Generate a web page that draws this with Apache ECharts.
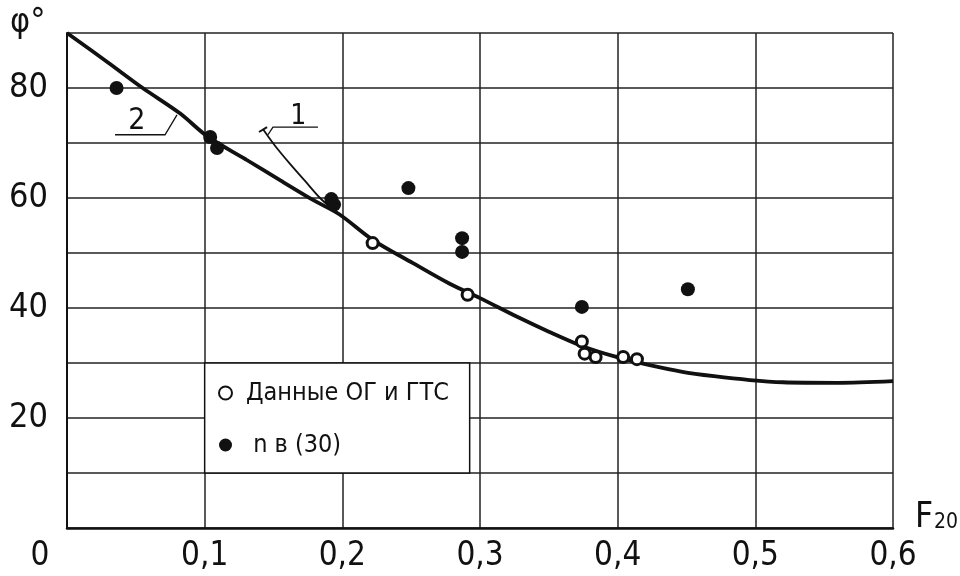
<!DOCTYPE html>
<html>
<head>
<meta charset="utf-8">
<script src="https://cdn.jsdelivr.net/npm/echarts@6/dist/echarts.min.js"></script>
<style>
  html, body { margin: 0; padding: 0; background: #fff; }
  #chart { width: 960px; height: 576px; }
</style>
</head>
<body>
<div id="chart"></div>
<script>
// curve 2 (thick) and curve 1 (thin), [F20, phi]
const curve2 = [
  [0, 90], [0.03, 84.6], [0.055, 80.0], [0.082, 75.4], [0.102, 71.2], [0.13, 67.0],
  [0.155, 63.2], [0.179, 59.6], [0.198, 57.0], [0.222, 52.4], [0.251, 48.2],
  [0.278, 44.4], [0.3, 41.8], [0.327, 38.4], [0.35, 35.7], [0.375, 33.0],
  [0.399, 31.1], [0.42, 29.8], [0.447, 28.4], [0.47, 27.6], [0.496, 26.9],
  [0.52, 26.5], [0.56, 26.4], [0.6, 26.7]
]
const curve1 = [[0.1424, 72.5], [0.1511, 69.5], [0.162, 66.2], [0.1729, 63.1], [0.1838, 60.0], [0.1947, 57.6]]

// measured points
const ogGtsPoints = [
  [0.222, 51.8], [0.291, 42.4], [0.374, 33.9], [0.376, 31.7],
  [0.384, 31.1], [0.404, 31.1], [0.414, 30.7]
]
const n30Points = [
  [0.036, 80.0], [0.104, 71.1], [0.109, 69.1], [0.192, 59.8], [0.194, 58.8],
  [0.248, 61.8], [0.287, 52.7], [0.287, 50.2], [0.374, 40.2], [0.451, 43.4]
]

const seriesNames = ['Данные ОГ и ГТС', ' n в (30)']
const yLabelValues = [20, 40, 60, 80]

// leader lines for curve labels "1" and "2" (data coords)
const label2Line = [[0.0349, 71.5], [0.0712, 71.5], [0.0799, 75.1]]
const label2Pos = [0.0508, 74.0]
const label1Line = [[0.1823, 72.9], [0.1496, 72.9], [0.146, 71.5]]
const label1Tick = [[0.1395, 72.0], [0.1453, 72.9]]
const label1Pos = [0.168, 74.8]

const font = '"Liberation Sans Narrow", "DejaVu Sans Condensed", "Liberation Sans", sans-serif'
const ink = '#111'

const chart = echarts.init(document.getElementById('chart'))

const option = {
  animation: false,
  backgroundColor: '#fff',
  grid: { left: 67, right: 67, top: 33, bottom: 48, containLabel: false },
  legend: {
    orient: 'vertical',
    left: 218,
    top: 380,
    padding: 0,
    itemGap: 26,
    itemWidth: 13,
    itemHeight: 13,
    data: seriesNames,
    textStyle: { fontFamily: font, fontSize: 25, lineHeight: 26, color: ink, padding: [0, 0, 0, 9] },
    z: 5
  },
  xAxis: {
    type: 'value',
    min: 0,
    max: 0.6,
    interval: 0.1,
    axisLine: { lineStyle: { color: ink, width: 2.5 } },
    axisTick: { show: false },
    splitLine: { lineStyle: { color: '#222', width: 1.5 } },
    axisLabel: {
      margin: 12,
      color: ink,
      fontFamily: font,
      fontSize: 33,
      formatter: v => (v === 0 ? '{o|0}' : v.toFixed(1).replace('.', ',')),
      rich: { o: { fontFamily: font, fontSize: 33, color: ink, padding: [0, 54, 0, 0] } }
    }
  },
  yAxis: {
    type: 'value',
    min: 0,
    max: 90,
    interval: 10,
    axisLine: { show: true, lineStyle: { color: ink, width: 2 } },
    axisTick: { show: false },
    splitLine: { lineStyle: { color: '#222', width: 1.5 } },
    axisLabel: {
      margin: 19,
      color: ink,
      fontFamily: font,
      fontSize: 34,
      formatter: v => (yLabelValues.indexOf(v) >= 0 ? String(v) : '')
    }
  },
  series: [
    {
      name: 'curve2',
      type: 'line',
      data: curve2,
      smooth: 0.3,
      showSymbol: false,
      lineStyle: { color: ink, width: 3.8 },
      z: 2
    },
    {
      name: 'curve1',
      type: 'line',
      data: curve1,
      smooth: 0.3,
      showSymbol: false,
      lineStyle: { color: ink, width: 1.8 },
      z: 2
    },
    {
      name: seriesNames[0],
      type: 'scatter',
      data: ogGtsPoints,
      symbol: 'circle',
      symbolSize: 11,
      itemStyle: { color: '#fff', borderColor: ink, borderWidth: 3, opacity: 1 },
      z: 3
    },
    {
      name: seriesNames[1],
      type: 'scatter',
      data: n30Points,
      symbol: 'circle',
      symbolSize: 14,
      itemStyle: { color: ink, opacity: 1 },
      z: 3
    }
  ]
}

chart.setOption(option)

// annotations placed through the chart's own coordinate system
const px = p => chart.convertToPixel({ gridIndex: 0 }, p)
const lt = px([0.1, 30])
const rb = px([0.1, 10])
chart.setOption({
  graphic: [
    {
      type: 'rect',
      z: 3,
      shape: { x: lt[0], y: lt[1], width: 265, height: rb[1] - lt[1] },
      style: { fill: '#fff', stroke: ink, lineWidth: 1.5 }
    },
    {
      type: 'polyline',
      z: 4,
      shape: { points: label2Line.map(px) },
      style: { stroke: ink, lineWidth: 1.3, fill: null }
    },
    {
      type: 'polyline',
      z: 4,
      shape: { points: label1Line.map(px) },
      style: { stroke: ink, lineWidth: 1.3, fill: null }
    },
    {
      type: 'polyline',
      z: 4,
      shape: { points: label1Tick.map(px) },
      style: { stroke: ink, lineWidth: 2, fill: null }
    },
    {
      type: 'text',
      z: 4,
      x: px(label2Pos)[0],
      y: px(label2Pos)[1],
      style: { text: '2', fontFamily: font, fontSize: 30, fill: ink, align: 'center', verticalAlign: 'middle' }
    },
    {
      type: 'text',
      z: 4,
      x: px(label1Pos)[0],
      y: px(label1Pos)[1],
      style: { text: '1', fontFamily: font, fontSize: 28, fill: ink, align: 'center', verticalAlign: 'middle' }
    },
    {
      type: 'text',
      left: 10,
      top: 6,
      style: { text: 'φ°', fontFamily: font, fontSize: 34, fill: ink }
    },
    {
      type: 'text',
      left: 915,
      top: 500,
      style: { text: 'F', fontFamily: font, fontSize: 35, fill: ink }
    },
    {
      type: 'text',
      left: 934,
      top: 512,
      style: { text: '20', fontFamily: font, fontSize: 21, fill: ink }
    }
  ]
})

window.addEventListener('resize', () => chart.resize())
</script>
</body>
</html>
